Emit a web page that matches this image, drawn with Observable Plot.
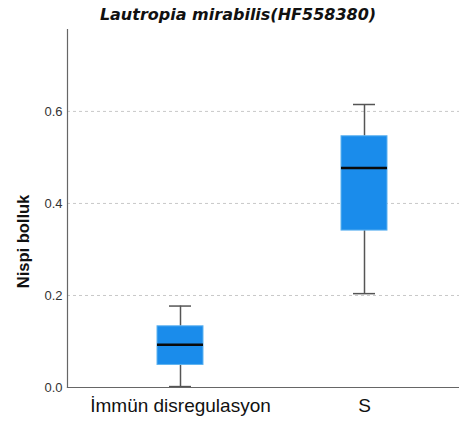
<!DOCTYPE html>
<html><head><meta charset="utf-8">
<script src="https://cdn.jsdelivr.net/npm/d3@7"></script>
<script src="https://cdn.jsdelivr.net/npm/@observablehq/plot@0.6"></script>
<style>
body{margin:0;background:#fff;width:459px;}
#title{height:29px;box-sizing:border-box;padding-top:5px;line-height:20px;text-align:center;font:italic bold 16px "DejaVu Sans";color:#111;padding-left:17px;}
svg{display:block;}
</style></head><body>
<div id="title">Lautropia mirabilis(HF558380)</div>
<div id="chart"></div>
<script>
const categories = ["İmmün disregulasyon", "S"];
const whiskerLow = [0.002, 0.204];
const q1 = [0.049, 0.341];
const median = [0.093, 0.477];
const q3 = [0.133, 0.546];
const whiskerHigh = [0.177, 0.615];
const yTicks = [0, 0.2, 0.4, 0.6];

const data = categories.map((c, i) => ({
  cat: c, lo: whiskerLow[i], q1: q1[i], med: median[i], q3: q3[i], hi: whiskerHigh[i]
}));

const W = 459, H = 393, ML = 67;
const stepW = 184, boxW = 46, capW = 22;

const plot = Plot.plot({
  width: W, height: H,
  marginLeft: ML, marginRight: 0, marginTop: 0, marginBottom: 35,
  style: {background: "#fff", fontFamily: "Liberation Sans"},
  x: {domain: categories, range: [88, 456], padding: 0, label: null},
  y: {domain: [0, 0.778], label: null},
  marks: [
    Plot.ruleY(yTicks.filter(d => d > 0), {stroke: "#c8c8c8", strokeDasharray: "3,3", strokeWidth: 1}),
    Plot.ruleX(data, {x: "cat", y1: "lo", y2: "q1", stroke: "#555", strokeWidth: 1.5}),
    Plot.ruleX(data, {x: "cat", y1: "q3", y2: "hi", stroke: "#555", strokeWidth: 1.5}),
    Plot.tickY(data, {x: "cat", y: "lo", stroke: "#555", strokeWidth: 1.5, insetLeft: (stepW - capW) / 2, insetRight: (stepW - capW) / 2}),
    Plot.tickY(data, {x: "cat", y: "hi", stroke: "#555", strokeWidth: 1.5, insetLeft: (stepW - capW) / 2, insetRight: (stepW - capW) / 2}),
    Plot.barY(data, {x: "cat", y1: "q1", y2: "q3", fill: "#1a8ceb", stroke: "#5fb3f0", strokeWidth: 1, insetLeft: (stepW - boxW) / 2, insetRight: (stepW - boxW) / 2}),
    Plot.tickY(data, {x: "cat", y: "med", stroke: "#0a0a0a", strokeWidth: 2.5, insetLeft: (stepW - boxW) / 2, insetRight: (stepW - boxW) / 2}),
    Plot.axisY({ticks: yTicks, tickFormat: d3.format(".1f"), tickSize: 0, tickPadding: 5, fontSize: 13, color: "#333", label: null}),
    Plot.axisX({tickSize: 0, tickPadding: 11, fontSize: 19, color: "#111", label: null}),
    Plot.frame({anchor: "left", stroke: "#666", strokeWidth: 1.2}),
    Plot.frame({anchor: "bottom", stroke: "#666", strokeWidth: 1.2}),
    Plot.text(["Nispi bolluk"], {frameAnchor: "left", textAnchor: "middle", dx: -44, dy: 33, rotate: -90, fontSize: 16.5, fontWeight: "bold", fill: "#111", text: d => d})
  ]
});
document.getElementById("chart").appendChild(plot);
</script>
</body></html>
